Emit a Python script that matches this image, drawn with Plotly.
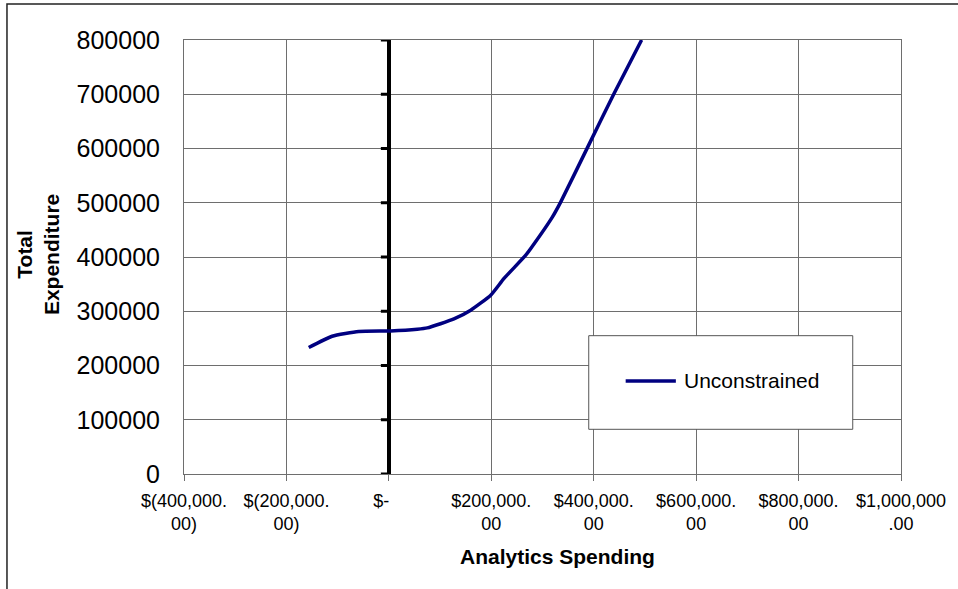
import plotly.graph_objects as go

series_name = "Unconstrained"
analytics_spending = [-156400, -110700, -58700, 3300, 55500, 75100, 127100, 159800,
                      198900, 224900, 267300, 277100, 319500, 335700, 388000, 440000, 493500]
total_expenditure = [233200, 254000, 262700, 263800, 266900, 269300, 285900, 302000,
                     329600, 360400, 403400, 415800, 474100, 501700, 602100, 701700, 800000]

x_tick_vals = [-400000, -200000, 0, 200000, 400000, 600000, 800000, 1000000]
x_tick_text = ["$(400,000.<br>00)", "$(200,000.<br>00)", "$-\u00a0\u00a0\u00a0",
               "$200,000.<br>00", "$400,000.<br>00", "$600,000.<br>00",
               "$800,000.<br>00", "$1,000,000<br>.00"]
y_tick_vals = [0, 100000, 200000, 300000, 400000, 500000, 600000, 700000, 800000]
y_tick_text = [str(v) for v in y_tick_vals]

FONT = "Arial, Liberation Sans, sans-serif"
GRID = "#6e6e6e"

fig = go.Figure()
fig.add_trace(go.Scatter(
    x=analytics_spending, y=total_expenditure, mode="lines", name=series_name,
    line=dict(color="#000080", width=3.5, shape="spline", smoothing=0.5), showlegend=False,
))

fig.update_layout(
    width=958, height=589,
    margin=dict(l=184, r=57, t=40, b=115, autoexpand=False),
    paper_bgcolor="white", plot_bgcolor="white",
    font=dict(family=FONT, color="black"),
    xaxis=dict(
        range=[-400000, 1000000], tickvals=x_tick_vals, ticktext=x_tick_text,
        showgrid=True, gridcolor=GRID, gridwidth=1,
        showline=True, linecolor=GRID, linewidth=1, mirror=True,
        ticks="outside", ticklen=6, tickcolor=GRID, tickwidth=1,
        tickfont=dict(size=18, family=FONT), automargin=False,
        zeroline=True, zerolinecolor="black", zerolinewidth=4,
        ticklabelstandoff=4,
    ),
    yaxis=dict(
        range=[0, 800000], tickvals=y_tick_vals, ticktext=y_tick_text,
        showgrid=True, gridcolor=GRID, gridwidth=1,
        showline=True, linecolor=GRID, linewidth=1, mirror=True,
        ticks="", tickfont=dict(size=25, family=FONT), automargin=False,
        zeroline=False, ticklabelstandoff=18,
    ),
)

# small tick marks on the y axis drawn at x = 0
for v in y_tick_vals:
    fig.add_shape(type="line", xref="x", yref="y", xsizemode="pixel", xanchor=0,
                  x0=-8, x1=0, y0=v, y1=v, line=dict(color="black", width=3))

# axis titles
fig.add_annotation(text="<b>Analytics Spending</b>", xref="paper", yref="paper",
                   x=0.5216, y=-0.189, xanchor="center", yanchor="middle",
                   showarrow=False, font=dict(size=21, family=FONT))
fig.add_annotation(text="<b>Total<br>Expenditure</b>", xref="paper", yref="paper",
                   x=-0.2035, y=0.5046, xanchor="center", yanchor="middle",
                   textangle=-90, align="center",
                   showarrow=False, font=dict(size=21, family=FONT))

# legend box (manual)
fig.add_shape(type="rect", xref="paper", yref="paper", x0=0.5645, x1=0.9327,
              y0=0.103, y1=0.3187, fillcolor="white", line=dict(color="#555555", width=1),
              layer="above")
fig.add_shape(type="line", xref="paper", yref="paper", x0=0.616, x1=0.686,
              y0=0.2143, y1=0.2143, line=dict(color="#000080", width=3.5), layer="above")
fig.add_annotation(text=series_name, xref="paper", yref="paper", x=0.694, y=0.2143,
                   xanchor="left", yanchor="middle", showarrow=False,
                   font=dict(size=21, family=FONT))

# outer chart border (extends past right and bottom edges)
fig.add_shape(type="rect", xref="paper", yref="paper", x0=-0.2469, x1=1.1,
              y0=-0.3, y1=1.083, line=dict(color="#222222", width=1.5),
              fillcolor="rgba(0,0,0,0)", layer="above")

fig.write_html("out.html", config={"displayModeBar": False},
               post_script="document.body.style.margin='0px';document.body.style.overflow='hidden';")
